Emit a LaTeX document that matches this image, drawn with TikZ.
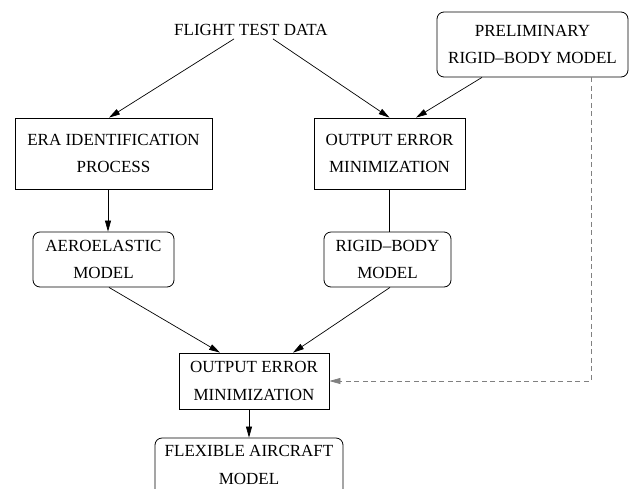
\documentclass[tikz,border=0pt]{standalone}
\usepackage{fontspec}
\setmainfont{Liberation Serif}
\usetikzlibrary{arrows.meta,calc}
\begin{document}
\begin{tikzpicture}[x=1pt,y=-1pt,
  every node/.style={font=\fontsize{17}{27.5}\selectfont, align=center, inner sep=0pt},
  sqbox/.style={draw, line width=0.8pt, rectangle},
  rdbox/.style={draw, line width=0.8pt, rectangle, rounded corners=7pt},
  arr/.style={line width=0.7pt, -{Triangle[length=11pt,width=6pt]}},
  plain/.style={line width=0.7pt},
  dsh/.style={line width=0.7pt, gray, dash pattern=on 5pt off 3.5pt, -{Triangle[length=11pt,width=6pt]}}]
\useasboundingbox (0,0) rectangle (629,488);
\node (ftd) at (251,30) {FLIGHT TEST DATA};
\node[rdbox, minimum width=191pt, minimum height=65pt] (prelim) at (532.5,44.5) {PRELIMINARY\\RIGID--BODY MODEL};
\node[sqbox, minimum width=197pt, minimum height=71pt] (era) at (113.5,153.5) {ERA IDENTIFICATION\\PROCESS};
\node[sqbox, minimum width=151pt, minimum height=71pt] (oem1) at (389.5,153.5) {OUTPUT ERROR\\MINIMIZATION};
\node[rdbox, minimum width=141pt, minimum height=55pt] (aero) at (103.5,259.5) {AEROELASTIC\\MODEL};
\node[rdbox, minimum width=127pt, minimum height=55pt] (rigid) at (387.5,259.5) {RIGID--BODY\\MODEL};
\node[sqbox, minimum width=150pt, minimum height=56pt] (oem2) at (254,381) {OUTPUT ERROR\\MINIMIZATION};
\node[rdbox, minimum width=188pt, minimum height=62pt, text depth=8pt] (flex) at (249,469) {FLEXIBLE AIRCRAFT\\MODEL};

\draw[arr] ([xshift=-17pt,yshift=-3pt]ftd.south) -- ([xshift=-4.5pt]era.north);
\draw[arr] ([xshift=22pt,yshift=-3pt]ftd.south) -- (oem1.north);
\draw[arr] ([xshift=-50.5pt]prelim.south) -- ([xshift=26.5pt]oem1.north);
\draw[arr] ([xshift=-5.5pt]era.south) -- ([xshift=-5.5pt]era.south |- aero.north);
\draw[plain] (oem1.south) -- (oem1.south |- rigid.north);
\draw[arr] ([xshift=5.5pt]aero.south) -- ([xshift=-34pt]oem2.north);
\draw[arr] ([xshift=2.5pt]rigid.south) -- ([xshift=39pt]oem2.north);
\draw[arr] ([xshift=-5pt]oem2.south) -- ([xshift=-5pt]oem2.south |- flex.north);
\draw[dsh] ([xshift=58.5pt]prelim.south) |- (oem2.east);
\end{tikzpicture}
\end{document}
